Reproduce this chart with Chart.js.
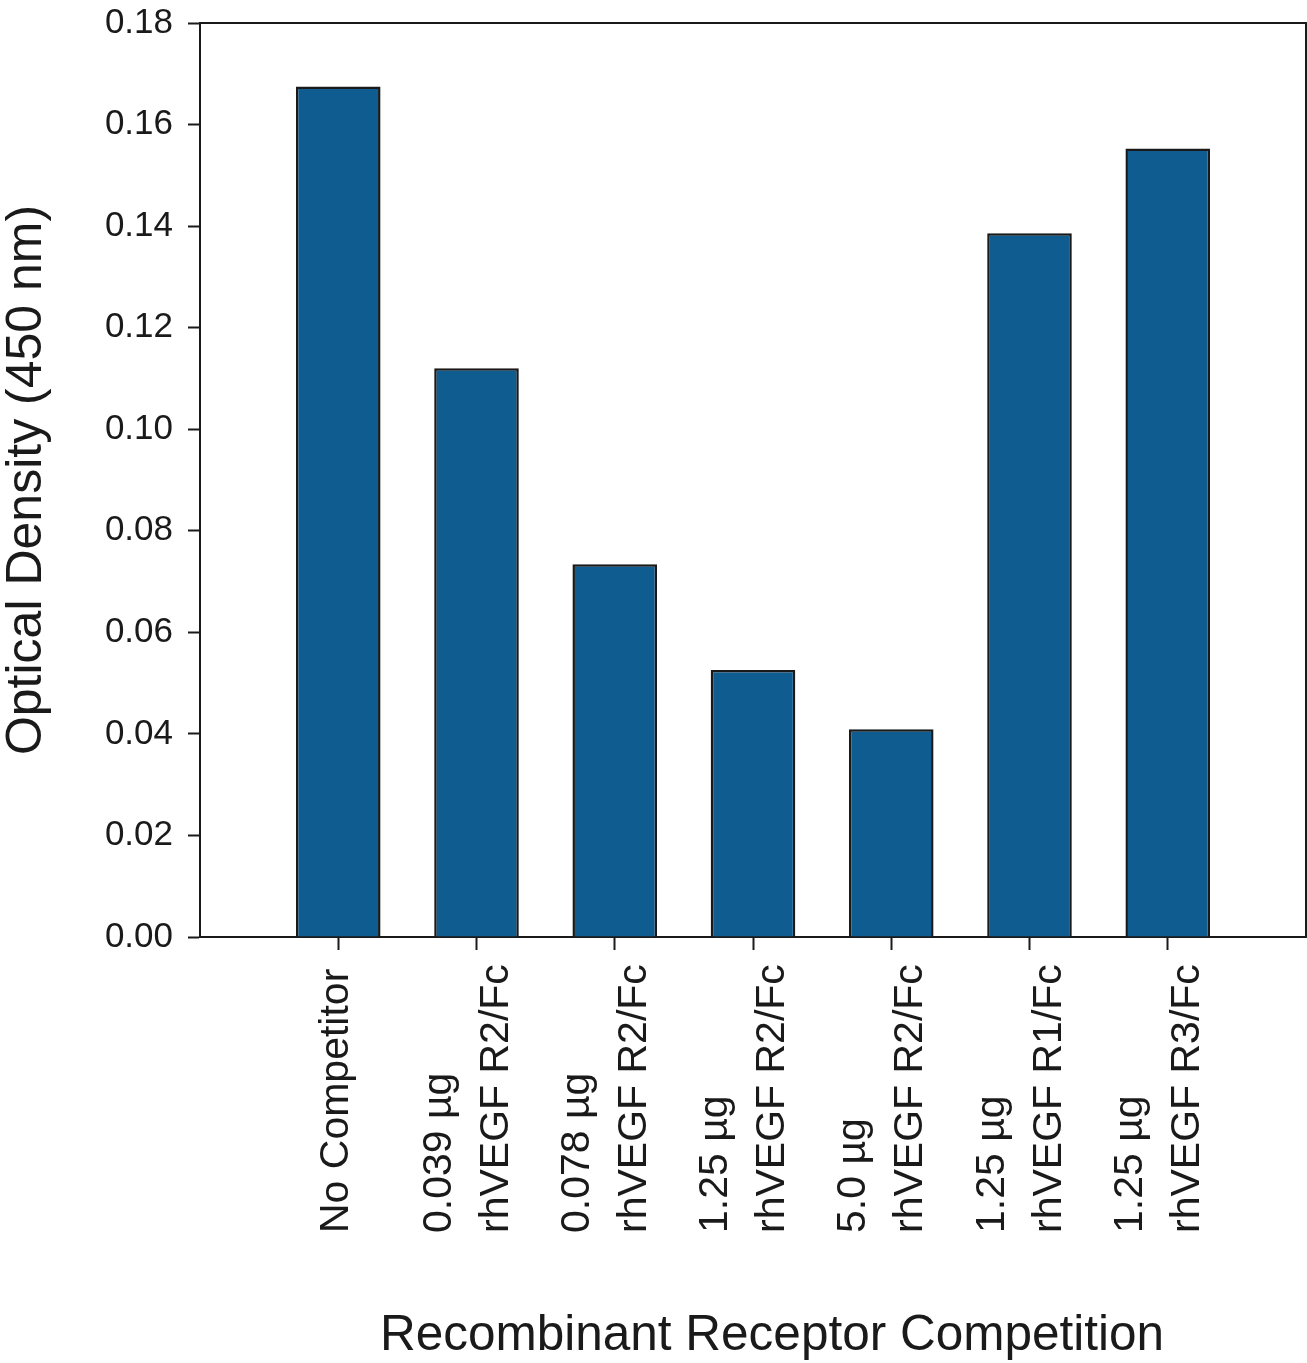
<!DOCTYPE html>
<html>
<head>
<meta charset="utf-8">
<script src="https://cdn.jsdelivr.net/npm/chart.js@4.4.0/dist/chart.umd.min.js"></script>
<style>
  html, body { margin: 0; padding: 0; background: #fff; }
  canvas { display: block; }
</style>
</head>
<body>
<canvas id="odChart" width="1307" height="1363"></canvas>
<script>
// categories (blank slots at both ends keep the empty margins of the original)
const categories = [
    [''],
    ['No Competitor'],
    ['0.039 µg', 'rhVEGF R2/Fc'],
    ['0.078 µg', 'rhVEGF R2/Fc'],
    ['1.25 µg', 'rhVEGF R2/Fc'],
    ['5.0 µg', 'rhVEGF R2/Fc'],
    ['1.25 µg', 'rhVEGF R1/Fc'],
    ['1.25 µg', 'rhVEGF R3/Fc'],
    ['']
];
const opticalDensity = [null, 0.1675, 0.1120, 0.0734, 0.0526, 0.0409, 0.1386, 0.1553, null];
const yTicks = [0, 0.02, 0.04, 0.06, 0.08, 0.10, 0.12, 0.14, 0.16, 0.18];

const FONT = '"Liberation Sans", Arial, Helvetica, sans-serif';
const INK = '#1a1a1a';

// box around the plot area (top + right sides)
const frame = {
    id: 'frame',
    afterDatasetsDraw(chart) {
        const {ctx, chartArea} = chart;
        ctx.save();
        ctx.strokeStyle = INK;
        ctx.lineWidth = 2;
        ctx.beginPath();
        ctx.moveTo(chartArea.left, chartArea.top);
        ctx.lineTo(chartArea.right, chartArea.top);
        ctx.lineTo(chartArea.right, chartArea.bottom);
        ctx.stroke();
        ctx.restore();
    }
};

// rotated multi-line category labels, start-aligned at the bottom, plus x title
const xLabels = {
    id: 'xLabels',
    afterDraw(chart) {
        const {ctx, chartArea} = chart;
        const xs = chart.scales.x;
        ctx.save();
        ctx.fillStyle = INK;
        ctx.font = '41px ' + FONT;
        ctx.textAlign = 'left';
        ctx.textBaseline = 'alphabetic';
        categories.forEach((lines, i) => {
            const n = lines.length;
            const tick = xs.getPixelForValue(i);
            const mid = 10 - 7.5 * (n - 1);
            lines.forEach((line, j) => {
                const bx = tick + mid + (j - (n - 1) / 2) * 57;
                ctx.save();
                ctx.translate(bx, chartArea.bottom + 296);
                ctx.rotate(-Math.PI / 2);
                ctx.fillText(line, 0, 0);
                ctx.restore();
            });
        });
        ctx.font = '49.5px ' + FONT;
        ctx.textAlign = 'center';
        ctx.fillText('Recombinant Receptor Competition',
            (chartArea.left + chartArea.right) / 2 + 19, chartArea.bottom + 413);
        ctx.restore();
    }
};

const ctx = document.getElementById('odChart').getContext('2d');
const chart = new Chart(ctx, {
    type: 'bar',
    data: {
        labels: categories.map(l => l.join(' ')),
        datasets: [{
            label: 'Optical Density',
            data: opticalDensity,
            backgroundColor: '#0f5c91',
            borderColor: INK,
            borderWidth: 2.5,
            barPercentage: 0.612,
            categoryPercentage: 1
        }]
    },
    options: {
        responsive: false,
        animation: false,
        layout: { padding: { top: 23, right: 1, left: 0, bottom: 0 } },
        plugins: {
            legend: { display: false },
            tooltip: { enabled: false }
        },
        scales: {
            x: {
                offset: false,
                afterFit: (scale) => { scale.height = 426; },
                grid: {
                    offset: false,
                    drawOnChartArea: false,
                    drawTicks: true,
                    tickLength: 13,
                    tickWidth: 2,
                    tickColor: (c) => (c.index === 0 || c.index === categories.length - 1) ? 'rgba(0,0,0,0)' : INK
                },
                border: { color: INK, width: 2 },
                ticks: { display: false, autoSkip: false }
            },
            y: {
                min: 0,
                max: 0.18,
                afterFit: (scale) => {
                    scale.width = 200;
                    scale.paddingTop = 0;
                    scale.paddingBottom = 0;
                },
                afterBuildTicks: (scale) => { scale.ticks = yTicks.map(v => ({ value: v })); },
                grid: {
                    drawOnChartArea: false,
                    drawTicks: true,
                    tickLength: 12,
                    tickWidth: 2,
                    tickColor: INK
                },
                border: { color: INK, width: 2 },
                ticks: {
                    padding: 15,
                    color: INK,
                    font: { family: FONT, size: 35 },
                    callback: (v) => Number(v).toFixed(2)
                },
                title: {
                    display: true,
                    text: 'Optical Density (450 nm)',
                    color: INK,
                    font: { family: FONT, size: 50, lineHeight: 1.1 },
                    padding: 0
                }
            }
        }
    },
    plugins: [frame, xLabels]
});
</script>
</body>
</html>
